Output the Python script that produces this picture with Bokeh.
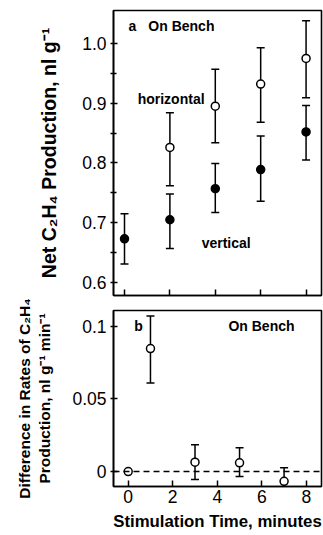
from bokeh.plotting import figure
from bokeh.layouts import column
from bokeh.models import FixedTicker, Range1d, Span, CustomLabelingPolicy
from bokeh.core.properties import value
from bokeh.embed import file_html
from bokeh.resources import INLINE

# ---- data (panel a) ----
horiz_t = [2, 4, 6, 8]
horiz_y = [0.826, 0.895, 0.932, 0.975]
horiz_lo = [0.762, 0.834, 0.868, 0.909]
horiz_hi = [0.884, 0.957, 0.993, 1.038]

vert_t = [0, 2, 4, 6, 8]
vert_y = [0.673, 0.705, 0.757, 0.789, 0.852]
vert_lo = [0.631, 0.657, 0.717, 0.736, 0.805]
vert_hi = [0.715, 0.748, 0.799, 0.845, 0.896]

# ---- data (panel b) ----
diff_t = [0, 1, 3, 5, 7]
diff_y = [0.0, 0.0846, 0.0064, 0.0060, -0.0067]
diff_lo = [0.0, 0.061, -0.0055, -0.0034, -0.016]
diff_hi = [0.0, 0.107, 0.0184, 0.0163, 0.0026]

x_ticks = [0, 2, 4, 6, 8]
a_ticks = [0.6, 0.7, 0.8, 0.9, 1.0]
a_tick_labels = ["0.6", "0.7", "0.8", "0.9", "1.0"]
a_minor = [0.65, 0.75, 0.85, 0.95]
b_ticks = [0, 0.05, 0.1]
b_tick_labels = ["0", "0.05", "0.1"]

FONT = "Liberation Sans"
TICK_FS = "17.5px"


def style(p):
    p.outline_line_color = "black"
    p.outline_line_width = 1.6
    p.xgrid.visible = False
    p.ygrid.visible = False
    p.background_fill_color = "white"
    p.border_fill_color = "white"
    for ax in p.axis:
        ax.axis_line_color = "black"
        ax.axis_line_width = 1.6
        ax.major_tick_line_color = "black"
        ax.major_tick_line_width = 1.5
        ax.minor_tick_line_color = "black"
        ax.minor_tick_line_width = 1.5
        ax.major_label_text_font = FONT
        ax.major_label_text_font_size = TICK_FS
        ax.major_label_text_color = "black"
        ax.axis_label_text_font = FONT
        ax.axis_label_text_font_style = "bold"
        ax.axis_label_text_color = "black"
    p.xaxis.major_tick_in = 6
    p.xaxis.major_tick_out = 0
    p.xaxis.minor_tick_in = 0
    p.xaxis.minor_tick_out = 0
    p.yaxis.major_tick_in = 4
    p.yaxis.major_tick_out = 3
    p.yaxis.minor_tick_in = 3
    p.yaxis.minor_tick_out = 3


def errbars(p, t, lo, hi):
    p.segment(x0=t, y0=lo, x1=t, y1=hi, line_color="black", line_width=1.5)
    p.scatter(t, lo, marker="dash", size=8, line_color="black", line_width=1.5)
    p.scatter(t, hi, marker="dash", size=8, line_color="black", line_width=1.5)


def label(p, x, y, s):
    p.text([x], [y], text=[s], text_font=value(FONT), text_font_size="14px",
           text_font_style="bold", text_baseline="middle", text_align="left",
           text_color="black")


# ---------- panel a ----------
pa = figure(width=323, height=297, output_backend="svg", toolbar_location=None,
            x_range=Range1d(-0.485, 8.68), y_range=Range1d(0.5782, 1.0552),
            min_border_left=113, min_border_right=2, min_border_top=10,
            min_border_bottom=2)
style(pa)
pa.xaxis.ticker = FixedTicker(ticks=x_ticks)
pa.xaxis.major_label_text_font_size = "0px"
pa.xaxis.major_label_standoff = 0
pa.xaxis.major_label_policy = CustomLabelingPolicy(
    code="for (const i of indices) { indices.unset(i) }\nreturn indices")
pa.yaxis.ticker = FixedTicker(ticks=a_ticks, minor_ticks=a_minor)
pa.yaxis.major_label_overrides = {t: s for t, s in zip(a_ticks, a_tick_labels)}
pa.yaxis.axis_label = "Net C\u2082H\u2084 Production, nl g\u207b\u00b9"
pa.yaxis.axis_label_text_font_size = "19.5px"
pa.yaxis.major_label_standoff = 4
pa.yaxis.axis_label_standoff = 19

errbars(pa, horiz_t, horiz_lo, horiz_hi)
errbars(pa, vert_t, vert_lo, vert_hi)
pa.scatter(horiz_t, horiz_y, size=8, fill_color="white", line_color="black", line_width=1.5)
pa.scatter(vert_t, vert_y, size=8, fill_color="black", line_color="black", line_width=1.5)

label(pa, 0.18, 1.030, "a")
label(pa, 1.05, 1.030, "On Bench")
label(pa, 0.58, 0.907, "horizontal")
label(pa, 3.4, 0.666, "vertical")

# ---------- panel b ----------
pb = figure(width=323, height=236, output_backend="svg", toolbar_location=None,
            x_range=Range1d(-0.66, 8.68), y_range=Range1d(-0.0103, 0.1108),
            min_border_left=109, min_border_right=2, min_border_top=13,
            min_border_bottom=47)
style(pb)
pb.xaxis.ticker = FixedTicker(ticks=x_ticks)
pb.xaxis.axis_label = "Stimulation Time, minutes"
pb.xaxis.axis_label_text_font_size = "16.8px"
pb.xaxis.major_label_standoff = 3
pb.xaxis.axis_label_standoff = 6
pb.yaxis.ticker = FixedTicker(ticks=b_ticks)
pb.yaxis.major_label_overrides = {t: s for t, s in zip(b_ticks, b_tick_labels)}
pb.yaxis.axis_label = "Difference in Rates of C\u2082H\u2084\nProduction, nl g\u207b\u00b9 min\u207b\u00b9"
pb.yaxis.axis_label_text_font_size = "15.5px"
pb.yaxis.major_label_standoff = 4
pb.yaxis.axis_label_standoff = 16

pb.add_layout(Span(location=0, dimension="width", line_color="black",
                   line_width=1.5, line_dash="6 4"))
errbars(pb, diff_t[1:], diff_lo[1:], diff_hi[1:])
pb.scatter(diff_t, diff_y, size=8, fill_color="white", line_color="black", line_width=1.5)

label(pb, 0.27, 0.1, "b")
label(pb, 4.5, 0.1, "On Bench")

layout = column(pa, pb, spacing=0)
open("out.html", "w").write(file_html(layout, INLINE))
